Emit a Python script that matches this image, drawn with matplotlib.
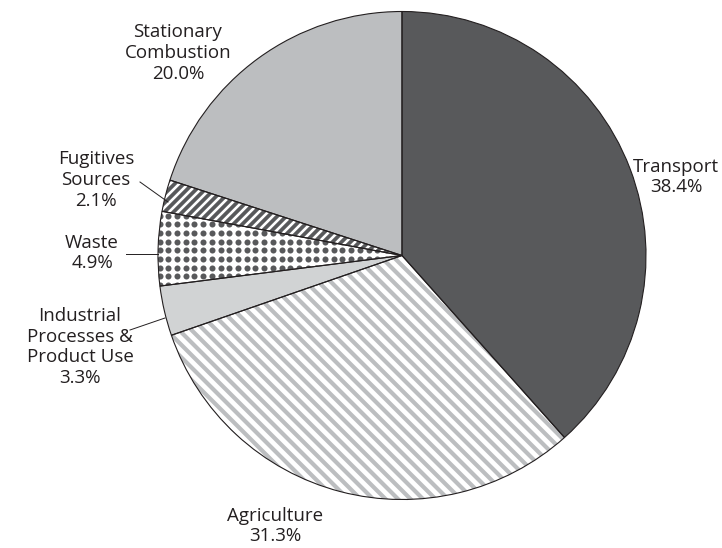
import numpy as np
import matplotlib.pyplot as plt
from matplotlib.collections import LineCollection

plt.rcParams['font.family'] = ['Open Sans', 'DejaVu Sans']

# emission shares by source (%), clockwise from 12 o'clock
sources = ['Transport', 'Agriculture', 'Industrial\nProcesses &\nProduct Use',
           'Waste', 'Fugitives\nSources', 'Stationary\nCombustion']
shares = [38.4, 31.3, 3.3, 4.9, 2.1, 20.0]

DARK = '#58595b'
MID = '#bcbec0'
LIGHT = '#d1d3d4'
INK = '#231f20'
fills = [DARK, 'white', LIGHT, 'white', 'white', MID]

# canvas in pixels, pie centre and radius
W, H = 722, 548
CX, CY, R = 402, 255.5, 244

# label centres and leader lines (pixels from top left)
label_xy = [(676, 177), (275, 526), (80, 347), (92, 253), (96, 180), (178, 53)]
leaders = [None, None, ((130, 330), (165, 318)), ((126, 254), (158, 254)),
           ((140, 182), (168, 202)), None]


def to_data(x, y):
    return (x - CX) / R, (CY - y) / R


fig = plt.figure(figsize=(W / 100, H / 100), dpi=100)
ax = fig.add_axes([0, 0, 1, 1])

wedges, _ = ax.pie(shares, colors=fills, startangle=90, counterclock=False,
                   wedgeprops=dict(linewidth=0))

# diagonal stripes for agriculture (light, "\") and fugitives (dark, "/")
def stripes(wedge, slope, step_px, color, lw):
    step = step_px / R
    segs = []
    for c in np.arange(-2.5, 2.5, step):
        segs.append([(-1.2, slope * -1.2 + c), (1.2, slope * 1.2 + c)])
    lc = LineCollection(segs, colors=color, linewidths=lw, zorder=2)
    ax.add_collection(lc)
    lc.set_clip_path(wedge)

stripes(wedges[1], -1, 12.5, MID, 3.0)
stripes(wedges[4], 1, 9, DARK, 2.7)

# dot pattern for waste
step = 8.7 / R
gx, gy = np.meshgrid(np.arange(-1.1, 0.1, step), np.arange(-0.3, 0.3, step))
dots = ax.scatter(gx.ravel(), gy.ravel(), s=19, color=DARK, linewidths=0, zorder=2)
dots.set_clip_path(wedges[3])

# outlines on top
ax.pie(shares, colors=['none'] * len(shares), startangle=90, counterclock=False,
       wedgeprops=dict(edgecolor=INK, linewidth=0.8, zorder=3))

for name, val, (lx, ly), ld in zip(sources, shares, label_xy, leaders):
    tx, ty = to_data(lx, ly)
    ax.text(tx, ty, f'{name}\n{val:.1f}%', ha='center', va='center',
            fontsize=13.5, color=INK, linespacing=1.2)
    if ld is not None:
        (x0, y0), (x1, y1) = ld
        a, b = to_data(x0, y0)
        c, d = to_data(x1, y1)
        ax.plot([a, c], [b, d], color=INK, lw=0.7, zorder=4)

ax.set_xlim(-CX / R, (W - CX) / R)
ax.set_ylim(-(H - CY) / R, CY / R)
ax.set_aspect('auto')
ax.axis('off')

fig.savefig('out.png', dpi=100)
